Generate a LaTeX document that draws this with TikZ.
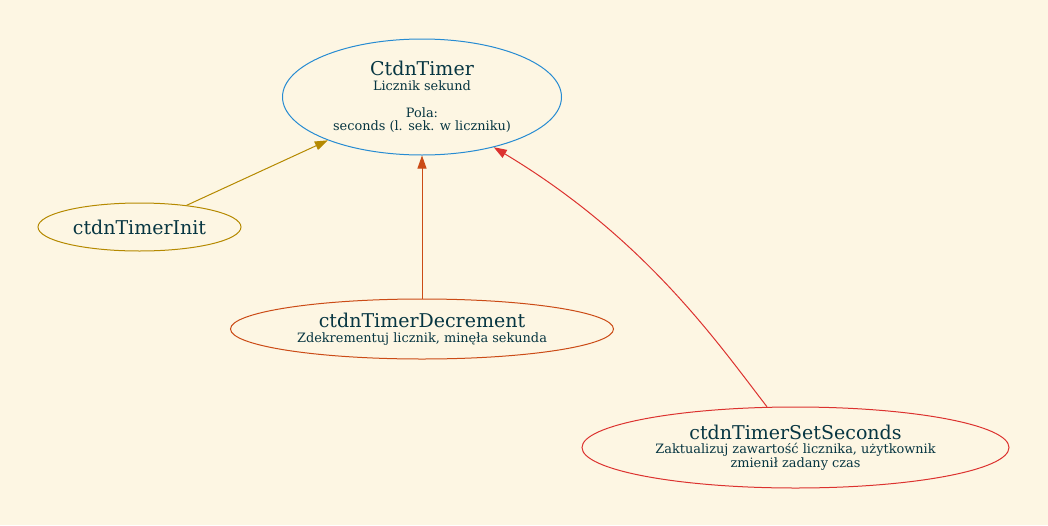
\documentclass[tikz,border=0pt]{standalone}
\usepackage{fontspec}
\setmainfont{DejaVu Serif}
\usetikzlibrary{shapes.geometric,arrows.meta}
\definecolor{bgcol}{HTML}{FDF6E3}
\definecolor{txtcol}{HTML}{073642}
\definecolor{cblue}{HTML}{268BD2}
\definecolor{cyellow}{HTML}{B58900}
\definecolor{corange}{HTML}{CB4B16}
\definecolor{cred}{HTML}{DC322F}
\tikzset{
  ell/.style={ellipse, inner sep=0pt, line width=1pt, text=txtcol, align=center,
    font=\fontsize{12.9}{13.5}\selectfont},
  edgeline/.style={line width=1pt, -{Triangle[length=13pt,width=9pt]}},
}
\newcommand{\ttl}[1]{{\fontsize{19}{13.5}\selectfont #1}}
\begin{document}
\begin{tikzpicture}[x=1pt,y=-1pt]
\fill[bgcol] (0,0) rectangle (1048,525);
\useasboundingbox (0,0) rectangle (1048,525);

\node[ell, draw=cblue, minimum width=279pt, minimum height=116pt] (timer) at (422,97)
  {\ttl{CtdnTimer}\\[1pt]Licznik sekund\\[13.5pt]Pola:\\seconds (l. sek. w liczniku)};
\node[ell, draw=cyellow, minimum width=203pt, minimum height=48pt] (init) at (139.5,227)
  {\ttl{ctdnTimerInit}};
\node[ell, draw=corange, minimum width=383pt, minimum height=60pt] (dec) at (422,329)
  {\ttl{ctdnTimerDecrement}\\[1pt]Zdekrementuj licznik, minęła sekunda};
\node[ell, draw=cred, minimum width=427pt, minimum height=81pt] (ss) at (795.5,447.5)
  {\ttl{ctdnTimerSetSeconds}\\[1pt]Zaktualizuj zawartość licznika, użytkownik\\zmienił zadany czas};

\draw[edgeline, draw=cyellow] (init) -- (timer);
\draw[edgeline, draw=corange] (dec) -- (timer);
\draw[edgeline, draw=cred] (ss.125.8) .. controls (717,342) and (645,238) .. (timer.-35);
\end{tikzpicture}
\end{document}
